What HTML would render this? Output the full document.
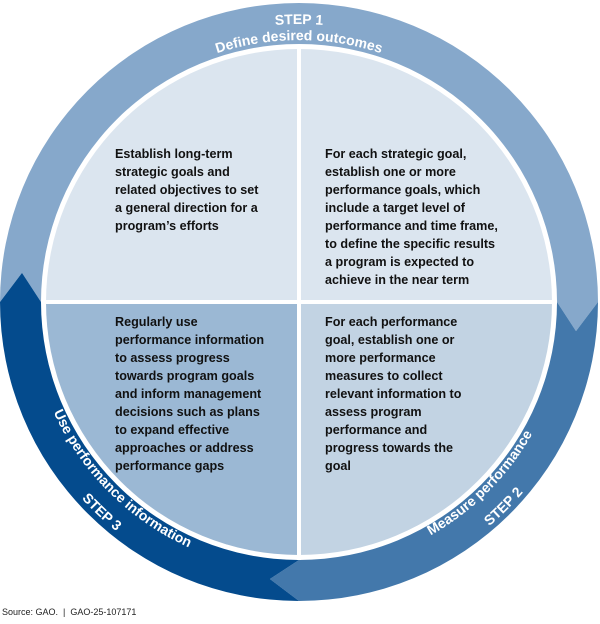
<!DOCTYPE html>
<html><head><meta charset="utf-8"><style>
html,body{margin:0;padding:0;background:#fff;}
body{width:600px;height:624px;position:relative;overflow:hidden;font-family:"Liberation Sans",Arial,sans-serif;}
.q{position:absolute;font-weight:bold;font-size:12.6px;line-height:18px;color:#111;}
.src{position:absolute;left:2px;top:607px;font-size:9px;color:#222;}
</style></head><body>
<svg width="600" height="624" style="position:absolute;left:0;top:0">
<defs>
<path id="tTop1" d="M21,302 A278,278 0 0 1 577,302"/>
<path id="tTop2" d="M37,302 A262,262 0 0 1 561,302"/>
<path id="tBL1" d="M30,302 A269,269 0 0 0 299,571"/>
<path id="tBL2" d="M6,302 A293,293 0 0 0 299,595"/>
<path id="tBR1" d="M299,570 A268,268 0 0 0 567,302"/>
<path id="tBR2" d="M299,596 A294,294 0 0 0 593,302"/>
</defs>
<path d="M0,302 L22,272.9 L41,302 A258,258 0 0 1 557,302 L576,331.1 L598,302 A299,299 0 0 0 0,302 Z" fill="#86a8cb"/>
<path d="M598,302 L576,331.1 L557,302 A258,258 0 0 1 299,560 L269.9,579 L299,601 A299,299 0 0 0 598,302 Z" fill="#4378ab"/>
<path d="M299,601 L269.9,579 L299,560 A258,258 0 0 1 41,302 L22,272.9 L0,302 A299,299 0 0 0 299,601 Z" fill="#044b8d"/>
<path d="M299,302 L46,302 A253,253 0 0 1 299,49 Z" fill="#dbe5ef"/>
<path d="M299,302 L299,49 A253,253 0 0 1 552,302 Z" fill="#dbe5ef"/>
<path d="M299,302 L552,302 A253,253 0 0 1 299,555 Z" fill="#c2d3e3"/>
<path d="M299,302 L299,555 A253,253 0 0 1 46,302 Z" fill="#9bb8d4"/>
<line x1="299" y1="45" x2="299" y2="560" stroke="#fff" stroke-width="4"/>
<line x1="42" y1="302" x2="557" y2="302" stroke="#fff" stroke-width="4"/>
<g font-family="Liberation Sans,Arial,sans-serif" font-weight="bold" fill="#fff" font-size="14">
<text><textPath href="#tTop1" startOffset="50%" text-anchor="middle">STEP 1</textPath></text>
<text><textPath href="#tTop2" startOffset="50%" text-anchor="middle">Define desired outcomes</textPath></text>
<text><textPath href="#tBL1" startOffset="50%" text-anchor="middle">Use performance information</textPath></text>
<text><textPath href="#tBL2" startOffset="52%" text-anchor="middle">STEP 3</textPath></text>
<text><textPath href="#tBR1" startOffset="50%" text-anchor="middle">Measure performance</textPath></text>
<text><textPath href="#tBR2" startOffset="50%" text-anchor="middle">STEP 2</textPath></text>
</g>
</svg>
<div class="q" style="left:115px;top:145px;">Establish long-term<br>strategic goals and<br>related objectives to set<br>a general direction for a<br>program’s efforts</div>
<div class="q" style="left:325px;top:145px;">For each strategic goal,<br>establish one or more<br>performance goals, which<br>include a target level of<br>performance and time frame,<br>to define the specific results<br>a program is expected to<br>achieve in the near term</div>
<div class="q" style="left:115px;top:313px;">Regularly use<br>performance information<br>to assess progress<br>towards program goals<br>and inform management<br>decisions such as plans<br>to expand effective<br>approaches or address<br>performance gaps</div>
<div class="q" style="left:325px;top:313px;">For each performance<br>goal, establish one or<br>more performance<br>measures to collect<br>relevant information to<br>assess program<br>performance and<br>progress towards the<br>goal</div>
<div class="src">Source: GAO.&nbsp; |&nbsp; GAO-25-107171</div>
</body></html>
